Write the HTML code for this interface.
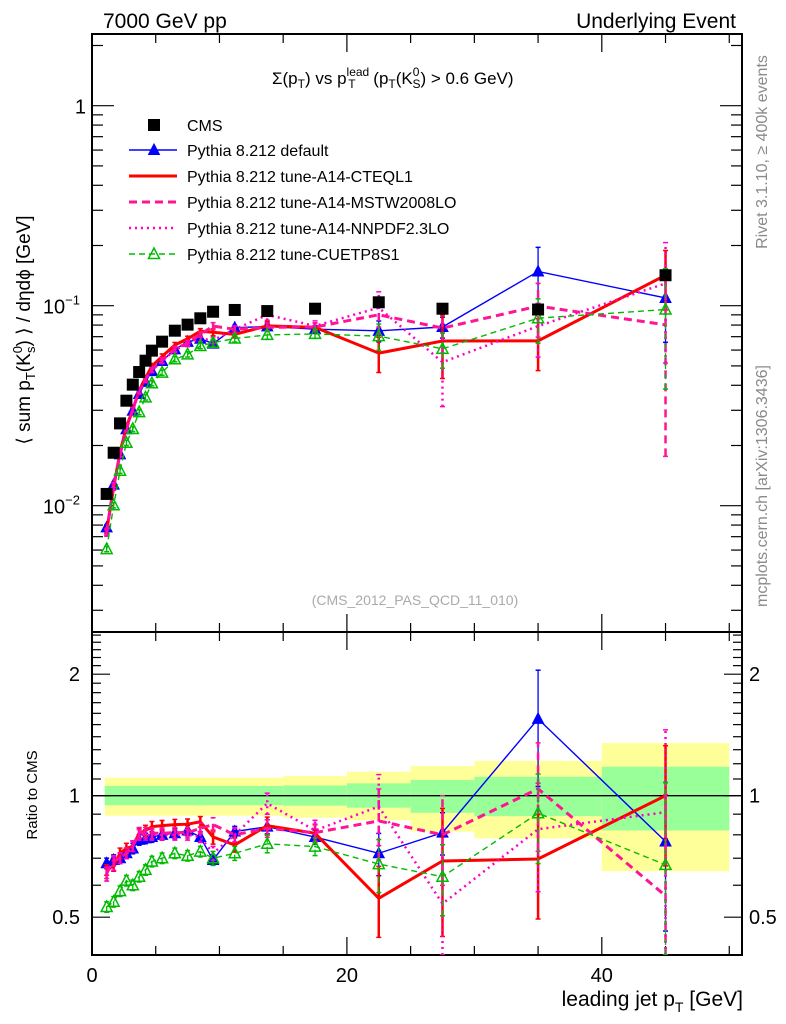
<!DOCTYPE html>
<html><head><meta charset="utf-8"><style>
html,body{margin:0;padding:0;background:#fff;width:786px;height:1024px;overflow:hidden}
svg{font-family:"Liberation Sans","DejaVu Sans",sans-serif;display:block}
</style></head><body>
<svg id="chart" width="786" height="1024" viewBox="0 0 786 1024" xmlns="http://www.w3.org/2000/svg">
<g id="bands"></g>
<g id="frames"></g>
<g id="series"></g>
<g id="texts">
<text x="103" y="28" font-size="21">7000 GeV pp</text>
<text x="736" y="28" font-size="21" text-anchor="end">Underlying Event</text>
<text x="272" y="84" font-size="17">Σ(p<tspan font-size="12" dy="4">T</tspan><tspan dy="-4">) vs p</tspan><tspan font-size="12" dy="-8">lead</tspan><tspan font-size="12" dx="-21" dy="12">T</tspan><tspan dx="13" dy="-4"> (p</tspan><tspan font-size="12" dy="4">T</tspan><tspan dy="-4">(K</tspan><tspan font-size="12" dy="-8">0</tspan><tspan font-size="12" dx="-7" dy="12">S</tspan><tspan dy="-4">) &gt; 0.6 GeV)</tspan></text>
<text x="415" y="605" font-size="14" fill="#aaa" text-anchor="middle">(CMS_2012_PAS_QCD_11_010)</text>
<text transform="translate(767,152) rotate(-90)" font-size="16" fill="#8a8a8a" text-anchor="middle">Rivet 3.1.10, ≥ 400k events</text>
<text transform="translate(767,486) rotate(-90)" font-size="16" fill="#8a8a8a" text-anchor="middle">mcplots.cern.ch [arXiv:1306.3436]</text>
<text transform="translate(30,330) rotate(-90)" font-size="19" text-anchor="middle">⟨ sum p<tspan font-size="13" dy="5">T</tspan><tspan dy="-5">(K</tspan><tspan font-size="13" dy="-8">0</tspan><tspan font-size="13" dx="-7" dy="13">s</tspan><tspan dy="-5">) ⟩ / dηdϕ [GeV]</tspan></text>
<text transform="translate(37,795) rotate(-90)" font-size="15" text-anchor="middle">Ratio to CMS</text>
<text x="743" y="1006" font-size="21" text-anchor="end">leading jet p<tspan font-size="14" dy="6">T</tspan><tspan dy="-6"> [GeV]</tspan></text>
</g>
<g id="legend"></g>
</svg>
<script>
const xVals=[1.15,1.7,2.2,2.7,3.2,3.7,4.2,4.7,5.5,6.5,7.5,8.5,9.5,11.2,13.75,17.5,22.5,27.5,35,45];
const cmsVals=[0.01145,0.0184,0.0258,0.0335,0.0403,0.0466,0.0531,0.0596,0.0661,0.075,0.0804,0.0865,0.0933,0.0952,0.094,0.0966,0.104,0.0966,0.0957,0.142];
const ratioDefault=[0.68,0.693,0.70,0.72,0.74,0.777,0.784,0.79,0.80,0.807,0.82,0.79,0.693,0.815,0.838,0.79,0.72,0.81,1.55,0.77];
const ratioCTEQ=[0.655,0.67,0.72,0.74,0.75,0.807,0.82,0.838,0.843,0.848,0.85,0.862,0.79,0.755,0.843,0.807,0.557,0.689,0.697,1.0];
const ratioMSTW=[0.643,0.69,0.70,0.72,0.75,0.81,0.81,0.807,0.807,0.81,0.81,0.83,0.848,0.80,0.83,0.81,0.866,0.80,1.04,0.565];
const ratioNNPDF=[0.64,0.68,0.70,0.72,0.75,0.80,0.80,0.80,0.80,0.80,0.80,0.79,0.72,0.80,0.957,0.82,0.94,0.54,0.826,0.91];
const ratioCUETP=[0.53,0.546,0.58,0.616,0.60,0.63,0.655,0.687,0.70,0.72,0.71,0.727,0.70,0.72,0.76,0.748,0.677,0.63,0.905,0.674];
const relErrDefault=[0.03,0.03,0.03,0.03,0.03,0.03,0.03,0.03,0.03,0.03,0.03,0.03,0.03,0.03,0.04,0.04,0.12,0.12,0.32,0.4];
const relErrCTEQ=[0.03,0.03,0.03,0.03,0.03,0.03,0.03,0.03,0.03,0.03,0.03,0.03,0.04,0.04,0.05,0.05,0.2,0.35,0.29,0.33];
const relErrMSTW=[0.03,0.03,0.03,0.03,0.03,0.03,0.03,0.03,0.03,0.03,0.03,0.03,0.04,0.04,0.05,0.05,0.2,0.25,0.3,0.78];
const relErrNNPDF=[0.04,0.04,0.03,0.03,0.03,0.03,0.03,0.03,0.03,0.03,0.03,0.03,0.04,0.04,0.06,0.06,0.2,0.4,0.3,0.6];
const relErrCUETP=[0.03,0.03,0.03,0.03,0.03,0.03,0.03,0.03,0.03,0.03,0.03,0.03,0.04,0.04,0.05,0.05,0.15,0.2,0.25,0.6];
const bandEdges=[1,15,20,25,30,40,50];
const bandTotalUp=[1.108,1.118,1.147,1.184,1.22,1.35];
const bandTotalDn=[0.892,0.882,0.87,0.815,0.784,0.65];
const bandStatUp=[1.057,1.06,1.073,1.094,1.114,1.18];
const bandStatDn=[0.947,0.945,0.934,0.907,0.89,0.82];
const xTicksMajor=[0,20,40];
const mainTickLabels=["1","10","10"];
const ratioTickVals=[0.5,1,2];
const ratioTickLabels=["0.5","1","2"];
const legendLabels=["CMS","Pythia 8.212 default","Pythia 8.212 tune-A14-CTEQL1","Pythia 8.212 tune-A14-MSTW2008LO","Pythia 8.212 tune-A14-NNPDF2.3LO","Pythia 8.212 tune-CUETP8S1"];

const NS="http://www.w3.org/2000/svg";
const L=92,R=742,T=34,MB=632,RB=955;
const X=v=>L+(v-0)*(R-L)/51;
const Y=v=>105.7-200*Math.log10(v);
const YR=r=>795.7-121.5*Math.log2(r);
function mk(tag,parent,attrs){const e=document.createElementNS(NS,tag);for(const k in attrs)e.setAttribute(k,attrs[k]);parent.appendChild(e);return e;}
const gB=document.getElementById('bands'),gF=document.getElementById('frames'),gS=document.getElementById('series'),gT=document.getElementById('texts'),gL=document.getElementById('legend');

for(let i=0;i<bandTotalUp.length;i++){
  const x0=X(bandEdges[i]),x1=X(bandEdges[i+1]);
  const y=mk('rect',gB,{x:x0,y:YR(bandTotalUp[i]),width:x1-x0,height:YR(bandTotalDn[i])-YR(bandTotalUp[i]),fill:'#ffff99'});
  
  
  const g=mk('rect',gB,{x:x0,y:YR(bandStatUp[i]),width:x1-x0,height:YR(bandStatDn[i])-YR(bandStatUp[i]),fill:'#99ff99'});
  
  
}
const one=mk('line',gB,{x1:L,x2:R,y1:YR(1),y2:YR(1),stroke:'#000','stroke-width':1.3});



function frame(y0,y1,name){const r=mk('rect',gF,{x:L,y:y0,width:R-L,height:y1-y0,fill:'none',stroke:'#000','stroke-width':2});

}
frame(T,MB,'main-plot-frame');frame(MB,RB,'ratio-plot-frame');
function tick(x1,y1,x2,y2){mk('line',gF,{x1,y1,x2,y2,stroke:'#000','stroke-width':1.2});}
for(let v=0;v<=50;v+=5){const x=X(v),len=(v%20===0)?18:9;
  tick(x,T,x,T+len);tick(x,MB,x,MB-len);tick(x,MB,x,MB+len);tick(x,RB,x,RB-len);}
xTicksMajor.forEach(v=>{const t=mk('text',gT,{x:X(v),y:982,'font-size':20,'text-anchor':'middle'});t.textContent=v;

});
for(let d=-3;d<=0;d++){for(let m=1;m<=9;m++){const v=m*Math.pow(10,d);const y=Y(v);if(y<T||y>MB)continue;const len=m===1?22:11;tick(L,y,L+len,y);tick(R,y,R-len,y);}}
const mt=[[1,0],[0.1,-1],[0.01,-2]];
mt.forEach((p,i)=>{const t=mk('text',gT,{x:p[1]===0?86:80,y:Y(p[0])+8,'font-size':20,'text-anchor':'end'});


if(p[1]===0)t.textContent=mainTickLabels[i];else{t.textContent=mainTickLabels[i];const s=mk('tspan',t,{'font-size':13,dy:-9});s.textContent='−'+(-p[1]);}});
[0.4,0.5,0.6,0.7,0.8,0.9,1,1.1,1.2,1.3,1.4,1.5,1.6,1.7,1.8,1.9,2,2.1,2.2,2.3,2.4,2.5].forEach(v=>{const y=YR(v);if(y<MB||y>RB)return;const len=(v===0.5||v===1||v===2)?18:9;tick(L,y,L+len,y);tick(R,y,R-len,y);});
ratioTickVals.forEach((v,i)=>{const a=mk('text',gT,{x:80,y:YR(v)+7,'font-size':20,'text-anchor':'end'});a.textContent=ratioTickLabels[i];


const b=mk('text',gT,{x:749,y:YR(v)+7,'font-size':20});b.textContent=ratioTickLabels[i];

});

const defs=mk('defs',document.getElementById('chart'),{});
const c1=mk('clipPath',defs,{id:'cm'});mk('rect',c1,{x:L,y:T,width:R-L,height:MB-T});
const c2=mk('clipPath',defs,{id:'cr'});mk('rect',c2,{x:L,y:MB,width:R-L,height:RB-MB});

const series=[
 {name:'pythia-default',ratio:ratioDefault,err:relErrDefault,color:'#0000ff',w:1.4,dash:'',marker:'tri'},
 {name:'pythia-a14-cteql1',ratio:ratioCTEQ,err:relErrCTEQ,color:'#ff0000',w:3,dash:'',marker:''},
 {name:'pythia-a14-mstw2008lo',ratio:ratioMSTW,err:relErrMSTW,color:'#ff1493',w:3,dash:'8,5',marker:''},
 {name:'pythia-a14-nnpdf23lo',ratio:ratioNNPDF,err:relErrNNPDF,color:'#ff00cc',w:2.5,dash:'2,4',marker:''},
 {name:'pythia-cuetp8s1',ratio:ratioCUETP,err:relErrCUETP,color:'#00bb00',w:1.4,dash:'6,4',marker:'otri'}
];
function tri(g,x,y,c,open){const p=mk('path',g,{d:`M${x},${y-6}L${x+5.5},${y+4.5}L${x-5.5},${y+4.5}Z`,fill:open?'none':c,stroke:c,'stroke-width':open?1.5:1});

}
series.forEach(s=>{
  [['cm',i=>cmsVals[i]*s.ratio[i],Y,1],['cr',i=>s.ratio[i],YR,0]].forEach(([clip,val,fy,isMain])=>{
    const top=isMain?T:MB,bot=isMain?MB:RB;
    const g=mk('g',gS,{'clip-path':`url(#${clip})`});
    
    
    xVals.forEach((xv,i)=>{const v=val(i),e=v*s.err[i];
      let lo=v-e>0?fy(v-e):bot;let hi=fy(v+e);
      lo=Math.min(Math.max(lo,top),bot);hi=Math.min(Math.max(hi,top),bot);
      mk('line',g,{x1:X(xv),x2:X(xv),y1:lo,y2:hi,stroke:s.color,'stroke-width':s.w>2?2.5:1.3,'stroke-dasharray':s.dash});
      mk('line',g,{x1:X(xv)-2.5,x2:X(xv)+2.5,y1:hi,y2:hi,stroke:s.color,'stroke-width':1.5});
      mk('line',g,{x1:X(xv)-2.5,x2:X(xv)+2.5,y1:lo,y2:lo,stroke:s.color,'stroke-width':1.5});});
    const pts=xVals.map((xv,i)=>X(xv)+','+fy(val(i))).join(' ');
    const pl=mk('polyline',g,{points:pts,fill:'none',stroke:s.color,'stroke-width':s.w,'stroke-dasharray':s.dash});
    
    
    if(s.marker)xVals.forEach((xv,i)=>tri(g,X(xv),fy(val(i)),s.color,s.marker==='otri'));
  });
});
const gc=mk('g',gS,{});


xVals.forEach((xv,i)=>{const r=mk('rect',gc,{x:X(xv)-6,y:Y(cmsVals[i])-6,width:12,height:12,fill:'#000'});

});

const ly=[125,150,176,202,228,254];
legendLabels.forEach((lab,i)=>{
  const g=mk('g',gL,{});
  
  
  const y=ly[i];
  if(i===0){mk('rect',g,{x:148,y:y-6,width:12,height:12,fill:'#000'});}
  else{const s=series[i-1];mk('line',g,{x1:129,x2:177,y1:y,y2:y,stroke:s.color,'stroke-width':s.w,'stroke-dasharray':s.dash});
    if(s.marker)tri(g,154,y,s.color,s.marker==='otri');}
  const t=mk('text',g,{x:187,y:y+6,'font-size':16});t.textContent=lab;
});
</script>
</body></html>
